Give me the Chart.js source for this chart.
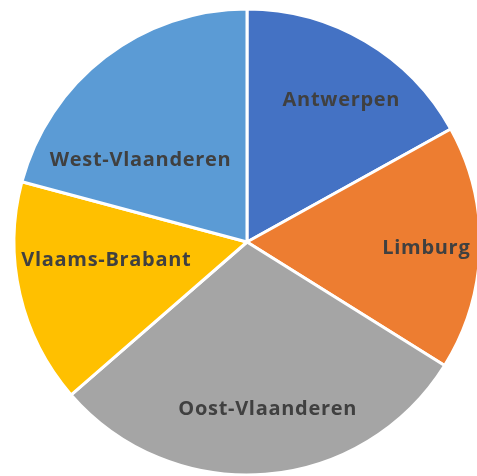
<!DOCTYPE html>
<html>
<head>
<meta charset="utf-8">
<script src="https://cdn.jsdelivr.net/npm/chart.js@4.4.1/dist/chart.umd.min.js"></script>
<style>
    html, body { margin: 0; padding: 0; background: #ffffff; overflow: hidden; }
    #wrap { width: 477px; height: 476px; position: relative; }
</style>
</head>
<body>
<div id="wrap"><canvas id="chart"></canvas></div>
<script>
// DATA
const provinces = ["Antwerpen", "Limburg", "Oost-Vlaanderen", "Vlaams-Brabant", "West-Vlaanderen"];
const shares = [61, 61, 107, 56, 75];
const colors = ["#4472C4", "#ED7D31", "#A5A5A5", "#FFC000", "#5B9BD5"];

// label placement (angle shift in degrees from slice middle, fraction of radius)
const labelShift = [2.9, 0.1, -2.6, 6.1, -14.7];
const labelDist = [0.736, 0.77, 0.719, 0.608, 0.578];

// draws the province names inside the slices
const sliceLabels = {
    id: "sliceLabels",
    afterDatasetsDraw(chart) {
        const ctx = chart.ctx;
        const arcs = chart.getDatasetMeta(0).data;
        ctx.save();
        ctx.font = "bold 20px 'Open Sans'";
        ctx.letterSpacing = "0.7px";
        ctx.fillStyle = "#404040";
        ctx.textAlign = "center";
        ctx.textBaseline = "middle";
        arcs.forEach((arc, i) => {
            const p = arc.getProps(["x", "y", "startAngle", "endAngle", "outerRadius"], true);
            const mid = (p.startAngle + p.endAngle) / 2 + labelShift[i] * Math.PI / 180;
            const r = p.outerRadius * labelDist[i];
            ctx.fillText(chart.data.labels[i], p.x + Math.cos(mid) * r, p.y + Math.sin(mid) * r + 1);
        });
        ctx.restore();
    }
};

// CHART
new Chart(document.getElementById("chart"), {
    type: "pie",
    data: {
        labels: provinces,
        datasets: [{
            data: shares,
            backgroundColor: colors,
            borderColor: "#ffffff",
            borderWidth: 3,
            clip: false
        }]
    },
    options: {
        responsive: true,
        maintainAspectRatio: false,
        animation: false,
        radius: 233,
        layout: { padding: { left: 17, top: 8, right: 0, bottom: 0 } },
        plugins: {
            legend: { display: false },
            tooltip: { enabled: false }
        }
    },
    plugins: [sliceLabels]
});
</script>
</body>
</html>
